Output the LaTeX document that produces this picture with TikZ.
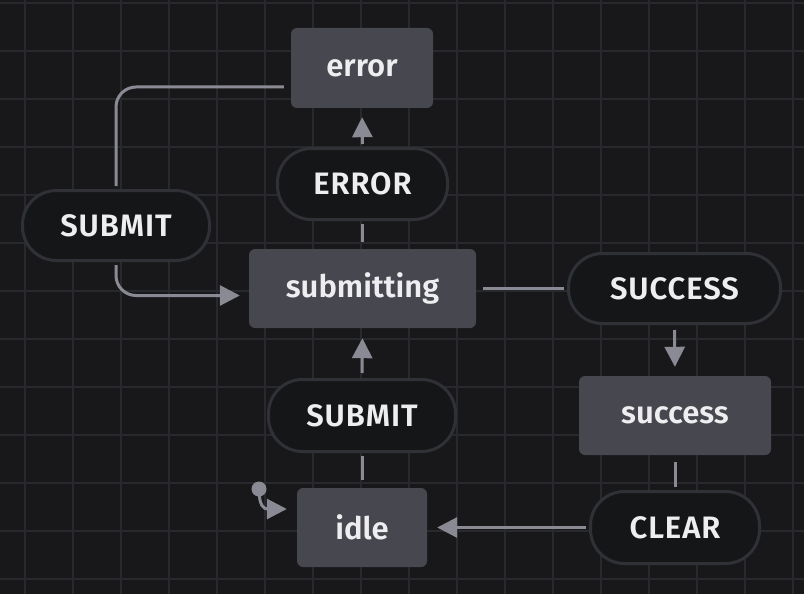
\documentclass[tikz,border=0pt]{standalone}
\usepackage{fontspec}
\setmainfont{Fira Sans}[UprightFont=* SemiBold]
\usetikzlibrary{arrows.meta,calc}
\definecolor{bgc}{HTML}{18181B}
\definecolor{gridc}{HTML}{28292D}
\definecolor{statec}{HTML}{47474F}
\definecolor{pillc}{HTML}{151618}
\definecolor{pillb}{HTML}{303136}
\definecolor{edgec}{HTML}{8A8A94}
\definecolor{txtc}{HTML}{EEEEF0}
\tikzset{
  statebox/.style={draw=none,fill=statec,rounded corners=6pt,text=txtc,font=\fontsize{31}{34}\selectfont,inner sep=0pt},
  pill/.style={draw=pillb,line width=3pt,fill=pillc,rounded corners=34pt,text=txtc,font=\fontsize{31}{34}\selectfont\addfontfeatures{LetterSpace=3},inner sep=0pt},
  edge/.style={draw=edgec,line width=3pt},
  arr/.style={edge,-{Triangle[length=20pt,width=20pt]}},
}
\begin{document}
\begin{tikzpicture}[x=1pt,y=-1pt]
\fill[bgc] (0,0) rectangle (804,594);
\useasboundingbox (0,0) rectangle (804,594);
\foreach \gx in {25,73,...,800} \draw[gridc,line width=1.6pt] (\gx,0) -- (\gx,594);
\foreach \gy in {3,51,...,594} \draw[gridc,line width=1.6pt] (0,\gy) -- (804,\gy);
% states
\node[statebox,minimum width=142pt,minimum height=80pt] (error) at (362,68) {error};
\node[statebox,minimum width=227pt,minimum height=79pt] (submitting) at (362.5,288.5) {submitting};
\node[statebox,minimum width=192pt,minimum height=79pt] (success) at (675,415.5) {success};
\node[statebox,minimum width=130pt,minimum height=79pt] (idle) at (362,527.5) {idle};
% events
\node[pill,minimum width=170pt,minimum height=71pt] (ev-error) at (362.5,184) {ERROR};
\node[pill,minimum width=212pt,minimum height=70pt] (ev-success) at (674.5,288.5) {SUCCESS};
\node[pill,minimum width=187pt,minimum height=72pt] (ev-submit2) at (362,415.5) {SUBMIT};
\node[pill,minimum width=169pt,minimum height=72pt] (ev-clear) at (675,527.5) {CLEAR};
\node[pill,minimum width=187pt,minimum height=70pt] (ev-submit1) at (116,225.5) {SUBMIT};
% initial marker
\node[circle,fill=edgec,minimum size=15pt,inner sep=0pt] (init) at (259,489) {};
\coordinate (idle-in) at ($(idle.west)+(-10,-18.5)$);
\draw[arr] (init.center) .. controls (259,506) and (264,509) .. (idle-in);
% transitions
\draw[edge,shorten <=7pt,shorten >=3pt] (submitting.north) -- (ev-error.south);
\draw[arr,shorten <=3pt,shorten >=9pt] (ev-error.north) -- (error.south);
\draw[edge,rounded corners=20pt] ($(error.west)+(-7,19)$) -| ($(ev-submit1.north)+(0,-3)$);
\draw[arr,rounded corners=20pt] ($(ev-submit1.south)+(0,3)$) |- ($(submitting.west)+(-9,7)$);
\draw[edge,shorten <=7pt,shorten >=3pt] (submitting.east) -- (ev-success.west);
\draw[arr,shorten <=5pt,shorten >=9pt] (ev-success.south) -- (success.south |- success.north);
\draw[edge,shorten <=7pt,shorten >=3pt] (success.south) -- (ev-clear.north);
\draw[arr,shorten <=3pt,shorten >=10pt] (ev-clear.west) -- (idle.east);
\draw[edge,shorten <=8pt,shorten >=3pt] (idle.north) -- (ev-submit2.south);
\draw[arr,shorten <=5pt,shorten >=10pt] (ev-submit2.north) -- (submitting.south);
\end{tikzpicture}
\end{document}
